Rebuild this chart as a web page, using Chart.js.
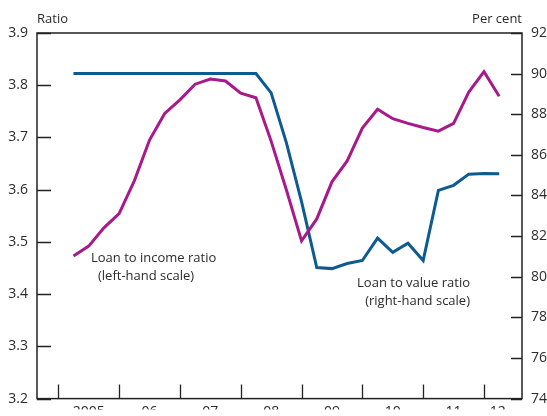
<!DOCTYPE html>
<html>
<head>
<meta charset="utf-8">
<script src="https://cdn.jsdelivr.net/npm/chart.js@4"></script>
<style>
  html, body { margin: 0; padding: 0; background: #fff; }
  #wrap { width: 547px; height: 416px; position: relative; }
</style>
</head>
<body>
<div id="wrap"><canvas id="c" width="547" height="416"></canvas></div>
<script>
// Quarterly observations, 2005 Q1 to 2012 Q1
const quarters = [
  '2005 Q1','2005 Q2','2005 Q3','2005 Q4',
  '2006 Q1','2006 Q2','2006 Q3','2006 Q4',
  '2007 Q1','2007 Q2','2007 Q3','2007 Q4',
  '2008 Q1','2008 Q2','2008 Q3','2008 Q4',
  '2009 Q1','2009 Q2','2009 Q3','2009 Q4',
  '2010 Q1','2010 Q2','2010 Q3','2010 Q4',
  '2011 Q1','2011 Q2','2011 Q3','2011 Q4',
  '2012 Q1'
];
// Loan to income ratio (left-hand scale, ratio)
const loanToIncome = [
  3.473, 3.492, 3.527, 3.554, 3.617, 3.695, 3.746, 3.772,
  3.802, 3.812, 3.808, 3.785, 3.776, 3.693, 3.600, 3.502,
  3.544, 3.615, 3.655, 3.718, 3.754, 3.736, 3.727, 3.719,
  3.712, 3.727, 3.787, 3.826, 3.779
];
// Loan to value ratio (right-hand scale, per cent)
const loanToValue = [
  90.0, 90.0, 90.0, 90.0, 90.0, 90.0, 90.0, 90.0,
  90.0, 90.0, 90.0, 90.0, 90.0, 89.05, 86.6, 83.7,
  80.45, 80.4, 80.65, 80.8, 81.9, 81.2, 81.65, 80.8,
  84.25, 84.5, 85.05, 85.08, 85.07
];
// Year tick labels
const yearLabels = ['2005', '06', '07', '08', '09', '10', '11', '12'];
const years = [2005, 2006, 2007, 2008, 2009, 2010, 2011, 2012];

// position on a quarterly time axis: years since start of 2005, in quarters; observation at end of quarter
function qPos(label) {
  const y = parseInt(label.slice(0, 4), 10);
  const q = parseInt(label.slice(6), 10);
  return (y - 2005) * 4 + q;
}
const yearStart = years.map(y => (y - 2005) * 4);
const yearMid = yearStart.map((v, i) => i === yearStart.length - 1 ? v + 0.9 : v + 2);

const FONT = '"Open Sans", "Noto Sans", sans-serif';
const TXT = '#2b2b2b';

const framePlugin = {
  id: 'frame',
  afterDatasetsDraw(chart) {
    const ctx = chart.ctx;
    const a = chart.chartArea;
    const xs = chart.scales.x, yl = chart.scales.y, yr = chart.scales.y2;
    ctx.save();
    ctx.strokeStyle = '#222';
    ctx.lineWidth = 1.3;
    ctx.beginPath();
    // left ticks
    yl.ticks.forEach(t => {
      const p = Math.round(yl.getPixelForValue(t.value)) + 0.5;
      ctx.moveTo(a.left, p); ctx.lineTo(a.left + 14, p);
    });
    // right ticks
    yr.ticks.forEach(t => {
      const p = Math.round(yr.getPixelForValue(t.value)) + 0.5;
      ctx.moveTo(a.right, p); ctx.lineTo(a.right - 11, p);
    });
    // bottom year ticks
    yearStart.forEach(v => {
      const p = Math.round(xs.getPixelForValue(v)) + 0.5;
      ctx.moveTo(p, a.bottom); ctx.lineTo(p, a.bottom - 14);
    });
    ctx.stroke();
    ctx.lineWidth = 1.5;
    ctx.strokeRect(a.left, a.top, a.right - a.left, a.bottom - a.top);
    // texts
    ctx.fillStyle = TXT;
    ctx.font = '13px ' + FONT;
    ctx.textBaseline = 'middle';
    ctx.textAlign = 'left';
    ctx.fillText('Ratio', a.left, 19);
    ctx.textAlign = 'right';
    ctx.fillText('Per cent', a.right, 19);
    ctx.textAlign = 'left';
    ctx.fillText('Loan to income ratio', 91, 258);
    ctx.fillText('(left-hand scale)', 98, 276);
    ctx.textAlign = 'right';
    ctx.fillText('Loan to value ratio', 470, 283);
    ctx.fillText('(right-hand scale)', 470, 301);
    ctx.restore();
  }
};

new Chart(document.getElementById('c'), {
  type: 'line',
  data: {
    datasets: [
      {
        label: 'Loan to income ratio',
        data: quarters.map((q, i) => ({ x: qPos(q), y: loanToIncome[i] })),
        yAxisID: 'y',
        borderColor: '#a8198b',
        borderWidth: 3,
        pointRadius: 0,
        tension: 0,
        fill: false
      },
      {
        label: 'Loan to value ratio',
        data: quarters.map((q, i) => ({ x: qPos(q), y: loanToValue[i] })),
        yAxisID: 'y2',
        borderColor: '#0d5b8f',
        borderWidth: 3,
        pointRadius: 0,
        tension: 0,
        fill: false
      }
    ]
  },
  options: {
    responsive: false,
    animation: false,
    layout: { padding: { top: 33, left: 0, right: 0, bottom: 0 } },
    plugins: { legend: { display: false }, tooltip: { enabled: false } },
    scales: {
      x: {
        type: 'linear',
        min: -1.4,
        max: 30.5,
        grid: { display: false, drawTicks: false },
        border: { display: false },
        afterBuildTicks: s => { s.ticks = yearMid.map(v => ({ value: v })); },
        afterFit: s => { s.height = 11; },
        ticks: {
          autoSkip: false,
          maxRotation: 0,
          padding: 5,
          color: TXT,
          font: { family: FONT, size: 14 },
          callback: (v, i) => yearLabels[i]
        }
      },
      y: {
        position: 'left',
        min: 3.2,
        max: 3.9,
        grid: { display: false, drawTicks: false },
        border: { display: false },
        afterFit: s => { s.width = 37; },
        afterBuildTicks: s => {
          const t = [];
          for (let k = 0; k <= 7; k++) t.push({ value: +(3.2 + k * 0.1).toFixed(1) });
          s.ticks = t;
        },
        ticks: {
          padding: 9,
          color: TXT,
          font: { family: FONT, size: 14 },
          callback: v => v.toFixed(1)
        }
      },
      y2: {
        position: 'right',
        min: 74,
        max: 92,
        grid: { display: false, drawTicks: false },
        border: { display: false },
        afterFit: s => { s.width = 25; },
        ticks: {
          stepSize: 2,
          padding: 9,
          color: TXT,
          font: { family: FONT, size: 14 }
        }
      }
    }
  },
  plugins: [framePlugin]
});
</script>
</body>
</html>
